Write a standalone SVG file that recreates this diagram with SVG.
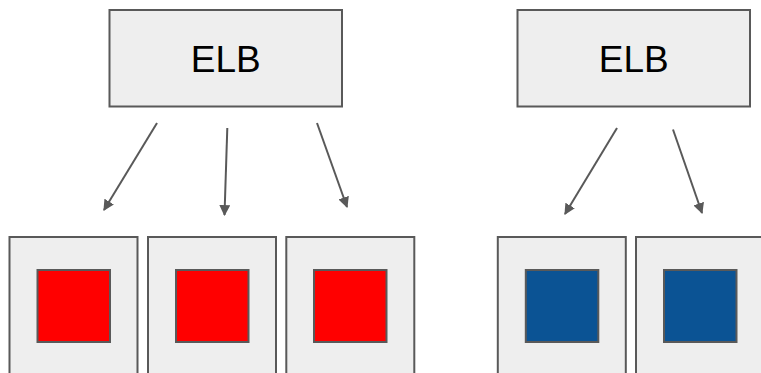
<svg xmlns="http://www.w3.org/2000/svg" width="761" height="373" viewBox="0 0 761 373">
<style>
.box{fill:#eeeeee;stroke:#595959;stroke-width:2}
.red{fill:#ff0000;stroke:#595959;stroke-width:2}
.blue{fill:#0b5394;stroke:#595959;stroke-width:2}
.lbl{font-family:"Liberation Sans",Arial,sans-serif;font-size:37px;fill:#000;text-anchor:middle}
.arr{stroke:#595959;stroke-width:2;fill:none;marker-end:url(#ah)}
</style>
<defs>
<marker id="ah" viewBox="0 0 10 10" refX="9" refY="5" markerWidth="5.5" markerHeight="5.5" orient="auto" markerUnits="strokeWidth">
<path d="M0,0 L10,5 L0,10 z" fill="#595959"/>
</marker>
</defs>
<rect width="761" height="373" fill="#ffffff"/>
<g id="elb1"><rect class="box" x="109.5" y="10" width="232.5" height="96.5"/><text class="lbl" x="225.7" y="72">ELB</text></g>
<g id="elb2"><rect class="box" x="517.5" y="10" width="232.5" height="96.5"/><text class="lbl" x="633.7" y="72">ELB</text></g>
<g id="inst1"><rect class="box" x="9.5" y="237" width="128" height="150"/><rect class="red" x="37.5" y="270" width="72.5" height="72"/></g>
<g id="inst2"><rect class="box" x="148" y="237" width="128" height="150"/><rect class="red" x="176" y="270" width="72.5" height="72"/></g>
<g id="inst3"><rect class="box" x="286.3" y="237" width="128" height="150"/><rect class="red" x="314" y="270" width="72.5" height="72"/></g>
<g id="inst4"><rect class="box" x="497.8" y="237" width="128" height="150"/><rect class="blue" x="525.8" y="270" width="72.5" height="72"/></g>
<g id="inst5"><rect class="box" x="636" y="237" width="128" height="150"/><rect class="blue" x="664" y="270" width="72.5" height="72"/></g>
<g id="connectors">
<line class="arr" x1="157" y1="123" x2="104" y2="210"/>
<line class="arr" x1="227.3" y1="128" x2="224.5" y2="215"/>
<line class="arr" x1="317" y1="123" x2="347" y2="207"/>
<line class="arr" x1="617" y1="128" x2="565" y2="214"/>
<line class="arr" x1="673" y1="129.5" x2="702" y2="213"/>
</g>
</svg>
